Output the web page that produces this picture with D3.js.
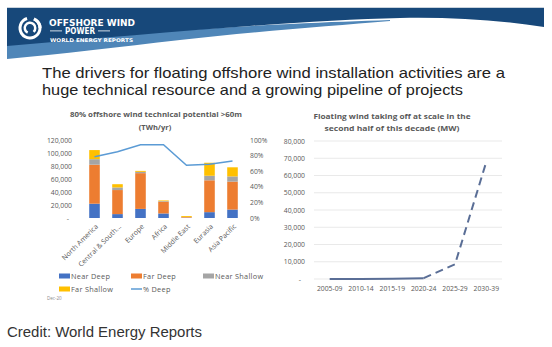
<!DOCTYPE html>
<html><head><meta charset="utf-8">
<script src="https://cdn.jsdelivr.net/npm/d3@7"></script>
<style>
html,body{margin:0;padding:0;background:#fff;}
svg{display:block;}
</style></head>
<body>
<script>
// ---------- DATA ----------
const regions = ["North America","Central & South...","Europe","Africa","Middle East","Eurasia","Asia Pacific"];
const nearDeep    = [22000, 6000, 14000, 7000,  300,  9000, 13000];
const farDeep     = [60000, 37000, 55000, 18000, 1000, 49000, 43000];
const nearShallow = [8500, 4000, 2000, 1000, 300, 7000, 8000];
const farShallow  = [14000, 5000, 1500, 1000, 1400, 20000, 14000];
const pctDeep     = [0.785, 0.85, 0.94, 0.94, 0.675, 0.69, 0.73];
const leftTicks   = [0,20000,40000,60000,80000,100000,120000];
const rightTicks  = [0,0.2,0.4,0.6,0.8,1.0];

const periods   = ["2005-09","2010-14","2015-19","2020-24","2025-29","2030-39"];
const mwActual  = [0, 30, 100, 500, null, null];
const mwOutlook = [null, null, null, 500, 8500, 68000];
const mwTicks   = [0,10000,20000,30000,40000,50000,60000,70000,80000];

const seriesNames  = ["Near Deep","Far Deep","Near Shallow","Far Shallow"];
const seriesColors = ["#4472c4","#ed7d31","#a5a5a5","#ffc000"];

// ---------- SVG ----------
const W=552,H=347;
const svg=d3.select("body").append("svg").attr("width",W).attr("height",H);
const font="'Open Sans', 'Liberation Sans', sans-serif";

// banner
svg.append("rect").attr("x",7).attr("y",7).attr("width",537).attr("height",1).attr("fill","#c9d3dd");
svg.append("path").attr("fill","#4f86b8")
  .attr("d","M7,44 C100,36 200,28 290,24 C330,22 360,21 390,20 L390,21 C330,26 250,32 180,40 C120,47 60,54 7,59 Z");
svg.append("path").attr("fill","#17487a")
  .attr("d","M7,8 L544,8 L544,27 C500,20 450,17 400,18 C300,20 150,34 7,46 Z");
// logo
const lg=svg.append("g").attr("transform","translate(30,28)");
lg.append("path").attr("fill","#fff")
  .attr("d",d3.arc().innerRadius(8.5).outerRadius(11.5).startAngle(0.4).endAngle(2*Math.PI-0.3)());
lg.append("path").attr("fill","#fff")
  .attr("d",d3.arc().innerRadius(4).outerRadius(6.5).startAngle(3.6).endAngle(3.6+2*Math.PI-1.2)());
lg.append("path").attr("fill","#fff").attr("d","M6,-9 C10,-7 12,-3 11.5,0 L8.5,0 C8.5,-3 7,-6 3,-8 Z");
svg.append("text").attr("x",49).attr("y",25.5).attr("fill","#fff").attr("font-family","'DejaVu Sans', sans-serif")
  .attr("font-weight","bold").attr("font-size",9).attr("textLength",86).attr("lengthAdjust","spacingAndGlyphs").text("OFFSHORE WIND");
svg.append("text").attr("x",80).attr("y",33.5).attr("text-anchor","middle").attr("fill","#fff").attr("font-family","'DejaVu Sans', sans-serif")
  .attr("font-weight","bold").attr("font-size",8).attr("textLength",30).attr("lengthAdjust","spacingAndGlyphs").text("POWER");
svg.append("rect").attr("x",50).attr("y",30.5).attr("width",12).attr("height",0.8).attr("fill","#fff");
svg.append("rect").attr("x",98).attr("y",30.5).attr("width",12).attr("height",0.8).attr("fill","#fff");
svg.append("text").attr("x",50).attr("y",41.5).attr("fill","#fff").attr("font-family","'DejaVu Sans', sans-serif")
  .attr("font-weight","bold").attr("font-size",5).attr("textLength",83).attr("lengthAdjust","spacingAndGlyphs").text("WORLD ENERGY REPORTS");

// slide title (one text block, two lines)
const tt=svg.append("text").attr("fill","#222").attr("font-family","'Liberation Sans', Arial, sans-serif").attr("font-size",15);
tt.append("tspan").attr("x",42).attr("y",78).attr("textLength",463).attr("lengthAdjust","spacingAndGlyphs")
  .text("The drivers for floating offshore wind installation activities are a");
tt.append("tspan").attr("x",42).attr("y",95).attr("textLength",421).attr("lengthAdjust","spacingAndGlyphs")
  .text("huge technical resource and a growing pipeline of projects");

// ---------- LEFT CHART ----------
const gray="#595959";
svg.append("text").attr("x",156).attr("y",117).attr("text-anchor","middle").attr("fill",gray)
  .attr("font-family",font).attr("font-weight","bold").attr("font-size",7.5)
  .attr("textLength",172).attr("lengthAdjust","spacingAndGlyphs").text("80% offshore wind technical potential >60m");
svg.append("text").attr("x",155).attr("y",130).attr("text-anchor","middle").attr("fill",gray)
  .attr("font-family",font).attr("font-weight","bold").attr("font-size",7.5).text("(TWh/yr)");

const x=d3.scaleBand().domain(regions).range([83,244]).paddingInner(0.54).paddingOuter(0.27);
const y=d3.scaleLinear().domain([0,120000]).range([218,140]);
const y2=d3.scaleLinear().domain([0,1]).range([218,140]);

const stackData=regions.map((r,i)=>({region:r,"Near Deep":nearDeep[i],"Far Deep":farDeep[i],"Near Shallow":nearShallow[i],"Far Shallow":farShallow[i]}));
const stacked=d3.stack().keys(seriesNames)(stackData);
svg.append("g").selectAll("g").data(stacked).join("g").attr("fill",(d,i)=>seriesColors[i])
  .selectAll("rect").data(d=>d).join("rect")
  .attr("x",d=>x(d.data.region)).attr("width",x.bandwidth())
  .attr("y",d=>y(d[1])).attr("height",d=>y(d[0])-y(d[1]));

const line1=d3.line().x((d,i)=>x(regions[i])+x.bandwidth()/2).y(d=>y2(d));
svg.append("path").datum(pctDeep).attr("d",line1).attr("fill","none").attr("stroke","#5b9bd5").attr("stroke-width",1.5);

const fmt=v=>v===0?"-":d3.format(",")(v);
const axL=svg.append("g").attr("transform","translate(72,0)")
  .call(d3.axisLeft(y).tickValues(leftTicks).tickSize(0).tickPadding(0).tickFormat(fmt));
axL.select(".domain").remove();
axL.selectAll("text").attr("font-family",font).attr("font-size",6.8).attr("fill",gray)
  .attr("dx",d=>d===0?-3:0);
const axR=svg.append("g").attr("transform","translate(250,0)")
  .call(d3.axisRight(y2).tickValues(rightTicks).tickSize(0).tickPadding(0).tickFormat(d3.format(".0%")));
axR.select(".domain").remove();
axR.selectAll("text").attr("font-family",font).attr("font-size",6.8).attr("fill",gray);

const axB=svg.append("g").attr("transform","translate(0,218)")
  .call(d3.axisBottom(x).tickSize(0).tickPadding(0));
axB.select(".domain").remove();
axB.selectAll("text").attr("font-family",font).attr("font-size",7).attr("fill",gray)
  .attr("text-anchor","end").attr("dy",0).attr("y",0)
  .attr("transform","translate(4,9) rotate(-45)");

// legend
const legItems=[
 {name:"Near Deep",type:"rect",color:seriesColors[0],x:59,y:276},
 {name:"Far Deep",type:"rect",color:seriesColors[1],x:131,y:276},
 {name:"Near Shallow",type:"rect",color:seriesColors[2],x:203,y:276},
 {name:"Far Shallow",type:"rect",color:seriesColors[3],x:59,y:289},
 {name:"% Deep",type:"line",color:"#5b9bd5",x:131,y:289}];
const lgd=svg.append("g").selectAll("g").data(legItems).join("g").attr("transform",d=>`translate(${d.x},${d.y})`);
lgd.filter(d=>d.type==="rect").append("rect").attr("x",0).attr("y",-2.5).attr("width",11).attr("height",5).attr("fill",d=>d.color);
lgd.filter(d=>d.type==="line").append("line").attr("x1",0).attr("x2",11).attr("y1",0).attr("y2",0).attr("stroke",d=>d.color).attr("stroke-width",1.5);
lgd.append("text").attr("x",12).attr("y",2.6).attr("font-family",font).attr("font-size",7.3).attr("letter-spacing",0.3).attr("fill",gray).text(d=>d.name);
svg.append("text").attr("x",47).attr("y",300).attr("font-family",font).attr("font-size",4.5).attr("fill","#8a8a8a").text("Dec-20");

// ---------- RIGHT CHART ----------
svg.append("text").attr("x",392).attr("y",119).attr("text-anchor","middle").attr("fill",gray)
  .attr("font-family",font).attr("font-weight","bold").attr("font-size",7.5)
  .attr("textLength",157).attr("lengthAdjust","spacingAndGlyphs").text("Floating wind taking off at scale in the");
svg.append("text").attr("x",392).attr("y",131).attr("text-anchor","middle").attr("fill",gray)
  .attr("font-family",font).attr("font-weight","bold").attr("font-size",7.5)
  .attr("textLength",135).attr("lengthAdjust","spacingAndGlyphs").text("second half of this decade (MW)");

const xr=d3.scaleBand().domain(periods).range([314,502]);
const yr=d3.scaleLinear().domain([0,80000]).range([279,141]);

svg.append("g").selectAll("line").data(mwTicks).join("line")
  .attr("x1",314).attr("x2",502).attr("y1",d=>yr(d)).attr("y2",d=>yr(d))
  .attr("stroke","#e3e3e3").attr("stroke-width",0.8);

const axRL=svg.append("g").attr("transform","translate(305,0)")
  .call(d3.axisLeft(yr).tickValues(mwTicks).tickSize(0).tickPadding(0).tickFormat(fmt));
axRL.select(".domain").remove();
axRL.selectAll("text").attr("font-family",font).attr("font-size",6.8).attr("fill",gray).attr("dx",d=>d===0?-4:0);
const axRB=svg.append("g").attr("transform","translate(0,286)")
  .call(d3.axisBottom(xr).tickSize(0).tickPadding(0));
axRB.select(".domain").remove();
axRB.selectAll("text").attr("font-family",font).attr("font-size",6.8).attr("fill",gray);

const line2=d3.line().defined(d=>d!=null).x((d,i)=>xr(periods[i])+xr.bandwidth()/2).y(d=>yr(d));
svg.append("path").datum(mwActual).attr("d",line2).attr("fill","none").attr("stroke","#5a6e96").attr("stroke-width",2);
svg.append("path").datum(mwOutlook).attr("d",line2).attr("fill","none").attr("stroke","#5a6e96").attr("stroke-width",2).attr("stroke-dasharray","8,5");

// credit
svg.append("text").attr("x",7).attr("y",336.5).attr("font-family","'Liberation Sans', Arial, sans-serif")
  .attr("font-size",14).attr("textLength",195).attr("lengthAdjust","spacingAndGlyphs")
  .attr("fill","#333").text("Credit: World Energy Reports");
</script>
</body></html>
